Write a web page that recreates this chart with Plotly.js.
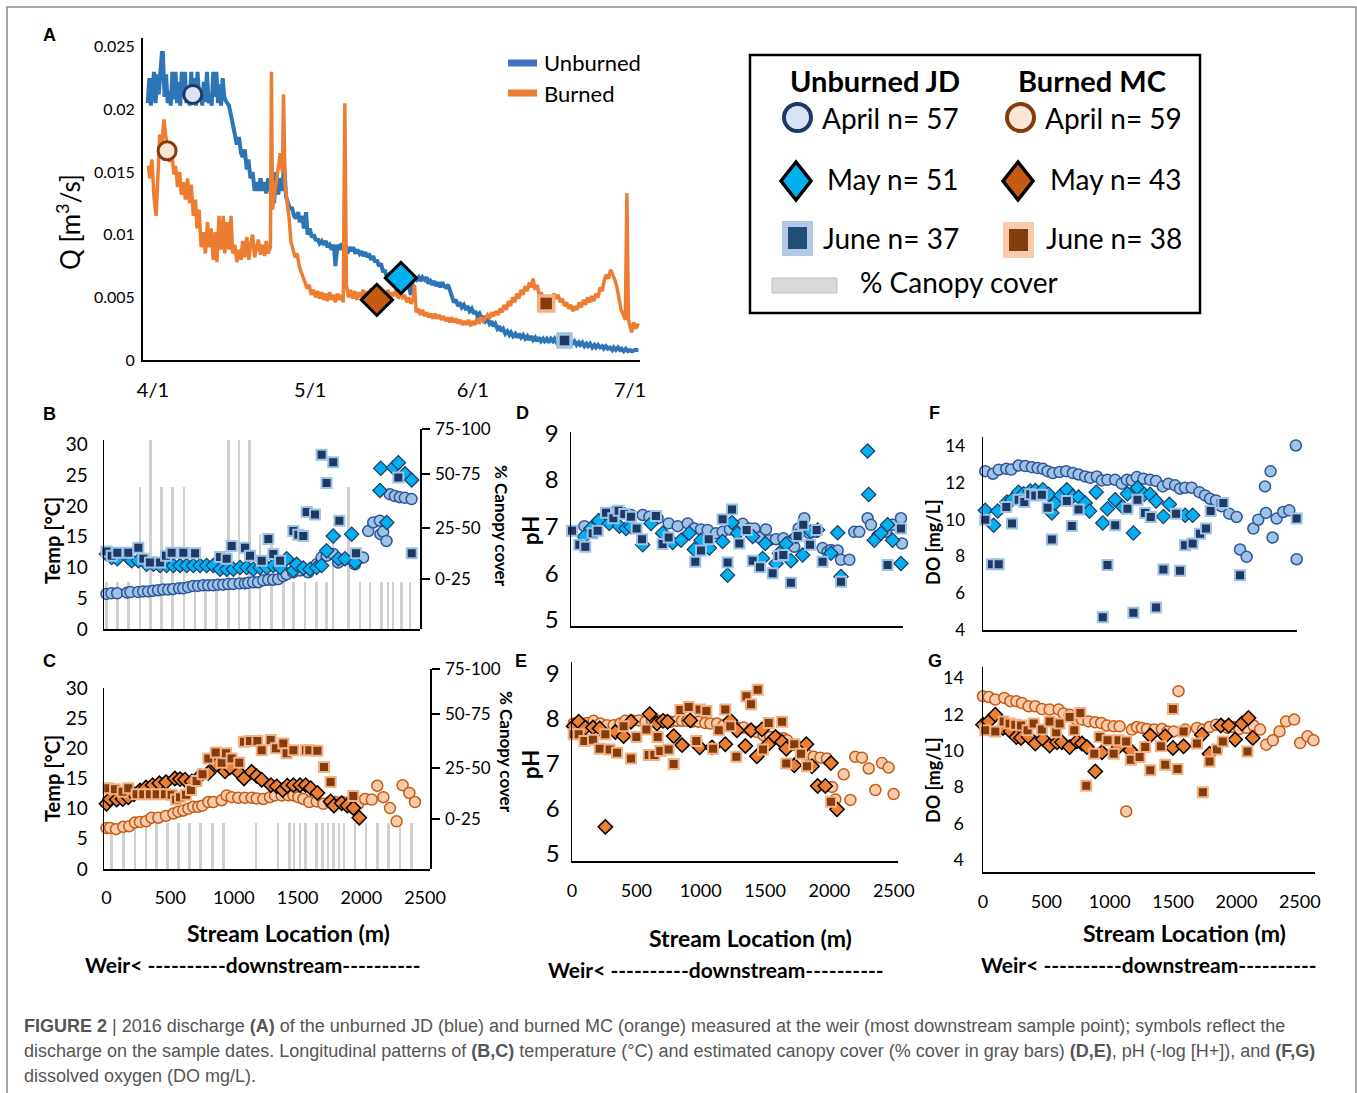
<!DOCTYPE html>
<html><head><meta charset="utf-8">
<script src="https://cdn.plot.ly/plotly-3.0.1.min.js"></script>
<style>html,body{margin:0;padding:0;background:#fff}#chart{width:1357px;height:1093px}</style>
</head><body><div id="chart"></div>
<script>
// ---------------- DATA ----------------
// Panel A: discharge (days since 4/1, Q in m3/s)
const qDayUnburned = [-1.0,-0.7,-0.4,-0.1,0.2,0.5,0.8,1.1,1.4,1.7,1.9,2.2,2.5,2.8,3.1,3.4,3.7,4.0,4.3,4.6,4.9,5.2,5.5,5.8,6.1,6.4,6.7,7.0,7.3,7.6,7.9,8.2,8.5,8.8,9.1,9.4,9.7,10.0,10.3,10.6,10.9,11.2,11.5,11.8,12.1,12.4,12.7,13.0,13.3,13.6,14.0,14.5,14.9,15.3,15.6,16.0,16.4,16.8,17.1,17.5,17.9,18.2,18.6,19.0,19.4,19.8,20.1,20.5,20.9,21.3,21.6,22.0,22.4,22.8,23.1,23.5,23.9,24.3,24.7,25.0,25.4,25.8,26.2,26.5,26.9,27.3,27.7,28.0,28.4,28.8,29.2,29.5,29.9,30.3,30.7,31.1,31.4,31.8,32.2,32.6,33.0,33.3,33.7,34.1,34.5,34.8,35.2,35.6,36.0,36.4,36.7,37.1,37.5,37.9,38.2,38.6,39.0,39.4,39.7,40.1,40.5,40.9,41.2,41.6,42.0,42.4,42.7,43.1,43.5,43.9,44.2,44.6,45.0,45.4,45.7,46.1,46.5,46.9,47.3,47.6,48.0,48.4,48.8,49.2,49.5,49.9,50.3,50.7,51.0,51.4,51.8,52.2,52.5,52.9,53.3,53.7,54.0,54.4,54.8,55.2,55.5,55.9,56.3,56.7,57.0,57.4,57.8,58.2,58.5,58.9,59.3,59.7,60.0,60.4,60.8,61.2,61.5,61.9,62.3,62.7,63.0,63.4,63.8,64.2,64.6,64.9,65.3,65.7,66.1,66.4,66.8,67.2,67.6,68.0,68.3,68.7,69.1,69.5,69.8,70.2,70.6,71.0,71.4,71.7,72.1,72.5,72.9,73.2,73.6,74.0,74.4,74.7,75.1,75.5,75.9,76.3,76.6,77.0,77.4,77.8,78.1,78.5,78.9,79.3,79.6,80.0,80.4,80.8,81.2,81.5,81.9,82.3,82.7,83.0,83.4,83.8,84.2,84.5,84.9,85.3,85.7,86.0,86.4,86.8,87.2,87.6,87.9,88.3,88.7,89.1,89.4,89.8,90.2,90.6,91.0,91.4,92.0,92.6];
const qUnburned = [0.0205,0.0225,0.0203,0.0215,0.0230,0.0205,0.0228,0.0212,0.0230,0.0245,0.0245,0.0210,0.0228,0.0205,0.0215,0.0203,0.0230,0.0208,0.0230,0.0205,0.0222,0.0203,0.0230,0.0210,0.0230,0.0205,0.0215,0.0203,0.0230,0.0208,0.0225,0.0203,0.0230,0.0210,0.0215,0.0203,0.0222,0.0206,0.0230,0.0205,0.0212,0.0203,0.0230,0.0210,0.0230,0.0205,0.0220,0.0203,0.0225,0.0210,0.0206,0.0203,0.0195,0.0185,0.0180,0.0172,0.0178,0.0165,0.0162,0.0168,0.0152,0.0160,0.0145,0.0150,0.0135,0.0142,0.0135,0.0145,0.0135,0.0142,0.0133,0.0145,0.0135,0.0142,0.0125,0.0150,0.0132,0.0145,0.0135,0.0158,0.0130,0.0125,0.0120,0.0122,0.0115,0.0113,0.0118,0.0110,0.0115,0.0105,0.0118,0.0100,0.0105,0.0098,0.0100,0.0095,0.0097,0.0093,0.0095,0.0092,0.0095,0.0090,0.0092,0.0088,0.0092,0.0075,0.0092,0.0088,0.0093,0.0088,0.0092,0.0085,0.0090,0.0087,0.0090,0.0085,0.0088,0.0085,0.0087,0.0083,0.0086,0.0082,0.0085,0.0080,0.0083,0.0078,0.0080,0.0075,0.0077,0.0070,0.0072,0.0066,0.0068,0.0064,0.0067,0.0064,0.0067,0.0065,0.0068,0.0064,0.0066,0.0060,0.0058,0.0052,0.0062,0.0066,0.0064,0.0066,0.0063,0.0066,0.0064,0.0066,0.0061,0.0063,0.0060,0.0063,0.0059,0.0062,0.0058,0.0062,0.0059,0.0058,0.0060,0.0055,0.0050,0.0046,0.0048,0.0043,0.0046,0.0042,0.0044,0.0040,0.0043,0.0039,0.0041,0.0037,0.0039,0.0035,0.0037,0.0033,0.0035,0.0031,0.0033,0.0029,0.0031,0.0027,0.0029,0.0025,0.0027,0.0023,0.0025,0.0021,0.0023,0.0020,0.0022,0.0019,0.0021,0.0018,0.0021,0.0018,0.0020,0.0017,0.0019,0.0016,0.0019,0.0016,0.0018,0.0015,0.0018,0.0015,0.0017,0.0015,0.0017,0.0014,0.0017,0.0015,0.0017,0.0014,0.0016,0.0014,0.0016,0.0014,0.0016,0.0013,0.0015,0.0013,0.0015,0.0012,0.0014,0.0012,0.0014,0.0011,0.0013,0.0011,0.0013,0.0010,0.0012,0.0010,0.0012,0.0010,0.0011,0.0009,0.0011,0.0009,0.0010,0.0008,0.0010,0.0008,0.0010,0.0008,0.0009,0.0007,0.0009,0.0007,0.0008,0.0007,0.0008,0.0008];
const qDayBurned = [-0.9,-0.6,-0.2,0.2,0.6,0.9,1.3,1.7,2.1,2.4,2.8,3.2,3.6,4.0,4.3,4.7,5.1,5.4,5.8,6.2,6.6,7.0,7.3,7.7,8.1,8.4,8.8,9.2,9.6,10.0,10.4,10.7,11.1,11.5,11.9,12.2,12.6,13.0,13.4,13.7,14.1,14.5,14.9,15.2,15.6,16.0,16.4,16.8,17.1,17.5,17.9,18.3,18.6,19.0,19.4,19.8,20.1,20.5,20.9,21.3,21.6,22.0,22.4,22.6,22.8,23.1,23.5,23.9,24.3,24.7,24.9,25.2,25.6,26.0,26.3,26.7,27.1,27.5,27.9,28.3,28.7,29.0,29.4,29.8,30.2,30.6,31.0,31.4,31.8,32.2,32.6,33.0,33.3,33.7,34.1,34.5,34.8,35.2,35.6,36.0,36.3,36.6,36.9,37.3,37.7,38.1,38.5,38.9,39.3,39.7,40.1,40.5,40.9,41.2,41.6,42.0,42.4,42.8,43.2,43.6,44.0,44.4,44.8,45.2,45.6,46.0,46.4,46.8,47.2,47.6,48.0,48.4,48.8,49.2,49.6,49.9,50.2,50.6,51.0,51.4,51.8,52.2,52.6,53.0,53.4,53.8,54.2,54.6,55.0,55.4,55.8,56.2,56.6,57.0,57.4,57.8,58.2,58.6,59.0,59.4,59.8,60.2,60.6,61.0,61.4,61.8,62.2,62.6,63.0,63.4,63.8,64.2,64.6,65.0,65.4,65.8,66.2,66.6,67.0,67.4,67.8,68.2,68.6,69.0,69.4,69.8,70.2,70.6,71.0,71.4,71.8,72.2,72.5,72.9,73.3,73.7,74.1,74.5,74.9,75.3,75.7,76.1,76.5,76.9,77.3,77.7,78.1,78.5,78.9,79.3,79.7,80.1,80.5,80.9,81.3,81.7,82.1,82.5,82.9,83.3,83.7,84.1,84.5,84.9,85.3,85.7,86.1,86.5,86.9,87.3,87.7,88.1,88.5,88.9,89.3,89.7,90.1,90.4,90.7,91.0,91.3,91.7,92.1,92.6];
const qBurned = [0.0155,0.0145,0.0160,0.0130,0.0115,0.0150,0.0180,0.0172,0.0192,0.0180,0.0170,0.0158,0.0165,0.0148,0.0155,0.0138,0.0150,0.0132,0.0142,0.0128,0.0145,0.0125,0.0140,0.0115,0.0128,0.0105,0.0120,0.0090,0.0102,0.0085,0.0110,0.0090,0.0105,0.0080,0.0102,0.0078,0.0115,0.0088,0.0115,0.0085,0.0110,0.0088,0.0115,0.0085,0.0092,0.0078,0.0088,0.0080,0.0095,0.0082,0.0098,0.0080,0.0092,0.0100,0.0082,0.0090,0.0096,0.0084,0.0092,0.0083,0.0095,0.0085,0.0090,0.0230,0.0120,0.0130,0.0142,0.0155,0.0165,0.0150,0.0212,0.0140,0.0128,0.0112,0.0095,0.0088,0.0082,0.0085,0.0075,0.0070,0.0064,0.0062,0.0057,0.0060,0.0052,0.0056,0.0050,0.0055,0.0049,0.0054,0.0048,0.0053,0.0047,0.0054,0.0048,0.0052,0.0046,0.0053,0.0048,0.0052,0.0046,0.0205,0.0060,0.0050,0.0056,0.0049,0.0055,0.0048,0.0054,0.0050,0.0056,0.0049,0.0055,0.0050,0.0057,0.0049,0.0052,0.0048,0.0054,0.0050,0.0055,0.0049,0.0056,0.0050,0.0054,0.0051,0.0056,0.0049,0.0053,0.0050,0.0052,0.0046,0.0050,0.0045,0.0048,0.0060,0.0038,0.0041,0.0036,0.0040,0.0035,0.0038,0.0034,0.0037,0.0033,0.0037,0.0033,0.0036,0.0032,0.0035,0.0031,0.0034,0.0030,0.0034,0.0030,0.0033,0.0029,0.0032,0.0028,0.0031,0.0028,0.0032,0.0027,0.0031,0.0028,0.0033,0.0029,0.0034,0.0031,0.0033,0.0036,0.0033,0.0038,0.0035,0.0039,0.0036,0.0041,0.0038,0.0044,0.0040,0.0047,0.0043,0.0050,0.0046,0.0053,0.0049,0.0056,0.0052,0.0059,0.0055,0.0062,0.0058,0.0065,0.0056,0.0060,0.0051,0.0054,0.0047,0.0050,0.0046,0.0051,0.0048,0.0053,0.0049,0.0052,0.0046,0.0049,0.0043,0.0046,0.0041,0.0044,0.0039,0.0043,0.0040,0.0046,0.0042,0.0048,0.0044,0.0050,0.0046,0.0051,0.0047,0.0053,0.0050,0.0058,0.0055,0.0064,0.0068,0.0065,0.0072,0.0068,0.0064,0.0058,0.0050,0.0040,0.0036,0.0032,0.0133,0.0032,0.0027,0.0022,0.0030,0.0025,0.0029];
// sample dates (April, May, June)
const sampleDayUnburned = [7.6, 47.3, 78.5];
const sampleQUnburned   = [0.0212, 0.00655, 0.00156];
const sampleDayBurned   = [2.7, 42.7, 75.0];
const sampleQBurned     = [0.0167, 0.0048, 0.0045];
const dateTickDays = [0, 30, 61, 91];
const dateTickText = ['4/1','5/1','6/1','7/1'];

// Canopy cover classes
const canopyLabels = ['0-25','25-50','50-75','75-100'];
const bCanopyLoc = [1,85,171,263,347,433,519,608,695,778,865,956,1040,1124,1203,1296,1388,1466,1558,1649,1727,1779,1897,1988,2066,2158,2210,2249,2315,2380];
const bCanopyClass = [1,1,1,3,4,3,3,3,1,1,1,4,4,4,2,2,1,1,1,1,1,2,3,1,1,1,1,1,1,1];
const cCanopyLoc = [41,132,224,310,394,480,566,653,739,831,917,1173,1346,1435,1472,1519,1561,1650,1697,1739,1781,1823,1864,1951,2037,2126,2215,2304,2393];
const cCanopyClass = [1,1,1,1,1,1,1,1,1,1,1,1,1,1,1,1,1,1,1,1,1,1,1,1,1,1,1,1,1];

// Panel B: unburned temperature
const bAprLoc = [0,39,84,162,188,249,288,327,366,405,445,484,523,570,602,641,680,719,759,798,837,876,916,955,994,1046,1086,1112,1151,1190,1230,1269,1308,1347,1386,1413,1465,1517,1583,1648,1687,1727,1779,1818,1871,1949,2014,2054,2093,2145,2150,2171,2197,2223,2263,2302,2341,2394];
const bAprTemp = [5.7,5.8,5.8,5.9,6.0,6.0,6.1,6.1,6.2,6.3,6.4,6.4,6.5,6.6,6.6,6.8,7.0,7.0,7.1,7.1,7.1,7.2,7.2,7.3,7.3,7.4,7.4,7.5,7.6,7.6,7.9,8.0,8.0,8.1,8.6,8.9,9.2,9.5,9.2,10.5,11.6,11.9,12.2,10.8,11.3,10.5,11.6,15.9,17.3,17.6,15.4,15.8,14.3,21.9,21.6,21.4,21.3,21.1];
const bMayLoc = [0,41,85,171,198,250,315,368,420,472,525,577,629,681,734,786,838,891,943,995,1048,1100,1152,1205,1257,1309,1362,1414,1466,1492,1544,1597,1649,1688,1727,1779,1819,1871,1924,1950,2146,2152,2199,2251,2290,2343,2395];
const bMayTemp = [12.2,11.6,11.4,11.6,11.1,11.1,10.5,10.5,10.3,10.3,10.3,10.3,10.3,10.3,10.3,10.3,10.3,9.7,9.7,9.7,10.0,10.0,9.7,10.0,10.0,10.3,10.0,11.4,9.5,10.5,9.9,9.7,10.0,10.3,12.7,15.1,11.4,11.4,15.4,10.8,22.5,26.1,17.3,26.2,27.0,25.2,24.2];
const bJunLoc = [0,41,85,171,250,289,341,420,467,511,603,695,891,943,982,1087,1126,1218,1270,1309,1362,1466,1505,1544,1571,1636,1688,1727,1779,1827,1958,2290,2395];
const bJunTemp = [12.6,11.9,12.4,12.4,13.2,11.4,10.8,10.8,11.9,12.4,12.4,12.3,11.7,11.4,13.5,13.2,11.9,11.1,14.6,12.2,11.1,15.9,15.3,15.1,19.0,18.6,28.3,23.7,27.1,17.6,12.3,24.6,12.3];

// Panel C: burned temperature
const cAprLoc = [0,27,75,132,179,224,263,310,354,407,467,525,564,603,642,681,720,752,799,838,904,943,982,1034,1086,1139,1179,1231,1283,1322,1375,1427,1467,1506,1545,1592,1650,1702,1754,1793,1846,1885,1938,1976,2029,2082,2125,2173,2225,2277,2324,2377,2421];
const cAprTemp = [6.8,6.8,6.6,7.0,7.1,7.7,7.8,7.9,8.5,8.5,8.8,9.2,9.5,9.7,10.0,10.3,10.3,10.5,11.1,11.1,11.4,12.2,11.9,11.8,11.8,11.8,11.7,11.6,11.9,12.2,12.2,12.2,12.2,11.9,11.6,11.1,11.2,10.8,11.1,11.1,11.1,11.0,10.0,10.8,11.6,11.5,13.8,11.9,10.1,7.9,13.9,12.6,11.1];
const cMayLoc = [0,27,80,127,171,216,263,310,362,415,467,537,577,616,668,734,799,865,930,969,1042,1079,1139,1179,1218,1291,1336,1383,1419,1467,1519,1563,1603,1655,1759,1785,1846,1890,1938,1984];
const cMayTemp = [10.8,11.6,11.5,11.6,11.9,12.4,13.0,13.5,13.9,14.2,14.4,15.0,14.9,14.8,14.5,15.4,15.9,17.3,16.2,16.8,15.9,15.0,16.1,15.4,14.8,13.9,13.7,13.1,13.8,13.9,13.9,13.9,13.4,12.6,11.2,10.5,10.9,10.5,10.1,8.5];
const cJunLoc = [14,67,127,171,237,289,341,394,459,511,546,577,624,663,707,754,799,857,904,938,982,1042,1079,1126,1184,1218,1289,1330,1388,1414,1467,1566,1592,1655,1707,1759,1937];
const cJunTemp = [13.4,13.2,12.8,13.4,12.4,12.4,12.4,12.4,12.4,12.3,11.5,11.9,12.3,13.1,14.6,15.7,18.3,19.3,17.6,19.2,18.3,17.6,21.1,21.2,21.2,19.7,21.4,20.0,20.8,19.2,19.7,19.7,19.7,19.6,16.9,14.4,12.1];

// Panel D: unburned pH
const dAprLoc = [104,199,285,344,401,466,557,609,673,759,829,907,958,1010,1062,1127,1178,1235,1295,1334,1386,1425,1463,1515,1541,1593,1650,1684,1735,1769,1813,1852,1904,1955,1994,2020,2072,2098,2163,2201,2240,2305,2331,2383,2448,2499,2564,2572];
const dAprPH = [7.01,7.06,7.25,7.32,7.30,7.25,7.25,7.21,7.18,7.07,7.01,7.07,6.96,6.94,6.93,6.86,6.89,6.94,7.01,7.06,6.96,6.96,6.77,6.94,6.71,6.73,6.75,6.66,6.57,6.96,7.18,6.86,6.89,6.54,6.46,6.50,6.49,6.29,6.29,6.89,6.89,7.18,7.04,6.80,6.89,7.04,7.18,6.64];
const dMayLoc = [104,155,215,298,376,427,466,557,622,712,790,855,919,958,1010,1075,1178,1217,1251,1295,1412,1489,1510,1593,1619,1671,1709,1748,1800,1865,1917,2020,2072,2098,2305,2313,2357,2409,2460,2499,2564];
const dMayPH = [6.79,6.96,7.13,7.07,7.01,6.96,7.00,6.61,7.07,6.86,6.66,6.71,6.86,6.51,6.71,6.54,6.68,5.96,7.09,6.86,6.79,6.32,6.64,6.21,6.43,6.63,6.27,6.79,6.39,6.89,6.93,6.43,6.87,5.93,8.62,7.69,6.71,6.86,7.04,6.71,6.21];
const dJunLoc = [8,65,111,168,207,272,329,370,414,466,510,552,660,712,759,966,1010,1070,1178,1217,1251,1308,1365,1412,1469,1567,1614,1650,1709,1761,1805,1857,1909,1955,2098,2460,2564];
const dJunPH = [6.91,6.61,6.57,6.86,6.91,7.30,7.18,7.34,7.27,7.21,6.96,6.73,7.23,6.63,6.77,6.25,6.49,6.73,7.16,6.23,7.37,6.64,6.93,6.27,6.13,6.00,6.37,6.39,5.80,6.80,7.04,6.61,6.93,6.25,5.82,6.18,6.96];

// Panel E: burned pH
const eAprLoc = [13,65,117,168,220,272,324,376,414,466,518,570,622,673,712,764,816,855,894,932,984,1036,1075,1127,1178,1230,1282,1334,1386,1437,1489,1541,1593,1645,1671,1722,1774,1826,1878,1930,1981,2020,2046,2111,2163,2201,2253,2305,2357,2409,2460,2499];
const eAprPH = [7.89,7.90,7.90,7.95,7.89,7.85,7.85,7.89,7.95,7.96,7.96,7.93,7.96,7.95,7.96,7.93,7.95,7.95,7.95,7.93,7.93,7.90,7.89,7.89,7.85,7.85,7.80,7.80,7.74,7.70,7.63,7.59,7.58,7.56,7.52,7.41,7.37,7.19,7.15,7.13,7.11,6.48,6.20,6.76,6.19,7.15,7.13,6.89,6.41,7.01,6.91,6.32];
const eMayLoc = [13,52,104,163,215,259,337,401,458,603,660,707,743,790,855,919,992,1088,1191,1230,1282,1347,1391,1437,1476,1528,1580,1632,1665,1727,1821,1865,1909,1968,2012,2059];
const eMayPH = [7.83,7.93,7.80,7.80,7.78,5.59,7.70,7.61,7.93,8.10,7.89,7.95,7.93,7.61,7.41,7.96,7.36,7.36,7.43,7.96,7.74,7.39,7.74,7.16,7.76,7.44,7.59,7.48,7.33,6.96,7.43,6.94,6.50,6.50,7.01,5.98];
const eJunLoc = [13,52,96,163,215,259,293,350,401,458,500,578,596,640,666,686,751,790,842,907,966,992,1044,1096,1140,1191,1230,1277,1355,1391,1443,1484,1528,1632,1665,1727,1779,1826,2012];
const eJunPH = [7.65,7.65,7.50,7.53,7.33,7.65,7.31,7.24,7.83,7.11,7.59,7.76,7.19,7.19,7.59,7.28,7.31,6.99,8.19,8.26,7.50,8.20,8.17,7.33,7.74,8.20,7.83,7.15,8.50,8.32,8.64,7.31,7.90,7.93,7.00,7.43,7.22,6.94,6.15];

// Panel F: unburned DO
const fAprLoc = [18,79,124,184,223,281,334,386,431,473,510,552,605,657,710,755,807,847,899,939,983,1044,1096,1136,1175,1215,1267,1320,1367,1420,1464,1517,1556,1596,1648,1709,1754,1793,1840,1885,1945,2003,2030,2082,2135,2174,2227,2235,2271,2287,2319,2371,2419,2471,2477];
const fAprDO = [12.64,12.50,12.72,12.77,12.73,12.95,12.92,12.86,12.81,12.77,12.64,12.54,12.59,12.64,12.54,12.46,12.35,12.28,12.35,12.14,12.17,12.17,11.96,12.17,12.14,12.32,12.23,12.17,12.10,11.81,11.96,11.87,11.69,11.74,11.74,11.50,11.32,11.14,11.05,10.73,10.33,10.15,8.38,7.98,9.52,10.00,11.81,10.37,12.63,9.03,10.06,10.42,10.51,14.04,7.85];
const fMayLoc = [18,84,116,189,229,281,321,373,413,473,518,544,571,615,662,710,755,807,841,894,946,983,1044,1104,1141,1188,1220,1273,1320,1367,1425,1472,1596,1656];
const fMayDO = [10.51,9.70,10.47,10.96,11.09,11.50,11.41,11.56,11.59,11.63,11.38,10.37,10.91,11.32,11.63,11.27,11.23,10.91,10.47,11.50,9.82,10.60,11.09,10.69,11.41,9.28,11.74,11.38,11.38,11.02,10.18,10.84,10.24,10.24];
const fJunLoc = [18,71,124,184,229,281,326,373,413,465,510,544,662,702,755,946,983,1044,1141,1188,1220,1280,1325,1367,1425,1525,1556,1596,1656,1714,1761,1798,1877,1898,2030,2477];
const fJunDO = [10.00,7.58,7.58,10.69,9.79,11.09,10.96,11.38,11.32,11.36,10.65,8.92,11.02,9.66,10.55,4.69,7.53,9.70,10.60,4.94,11.09,10.37,10.15,5.23,7.29,10.33,7.22,8.61,8.70,9.24,9.52,10.47,10.91,10.91,6.98,10.06];

// Panel G: burned DO
const gAprLoc = [0,45,97,168,216,263,308,360,413,465,526,597,636,684,736,781,833,886,933,978,1031,1078,1130,1175,1215,1254,1294,1351,1412,1456,1504,1543,1596,1688,1735,1788,1840,1885,1930,1977,2024,2082,2135,2187,2235,2287,2340,2392,2456,2503,2561,2608];
const gAprDO = [12.99,12.95,12.81,12.90,12.72,12.72,12.62,12.44,12.44,12.29,12.26,12.26,12.04,11.98,11.71,11.71,11.61,11.56,11.52,11.38,11.34,11.34,6.66,11.16,11.30,11.25,11.19,11.16,11.19,11.06,11.06,13.27,11.16,11.25,11.16,11.30,11.43,11.38,11.25,11.30,11.19,11.25,11.38,11.16,10.33,10.57,11.06,11.61,11.71,10.42,10.79,10.57];
const gMayLoc = [0,45,97,158,216,263,300,360,413,473,526,584,623,684,741,781,820,886,939,1070,1162,1320,1438,1499,1583,1727,1788,1877,1938,1990,2043,2095,2129];
const gMayDO = [11.43,11.61,11.98,11.25,11.06,10.75,10.70,10.75,10.39,10.64,10.28,10.46,10.46,10.20,10.51,10.39,10.20,8.86,9.91,10.20,10.02,10.83,10.79,10.15,10.24,10.88,9.83,11.38,11.38,10.61,11.49,11.80,10.70];
const gJunLoc = [18,97,163,210,255,300,352,400,465,526,578,605,684,720,768,815,878,920,983,1031,1070,1130,1167,1236,1280,1320,1404,1438,1499,1535,1583,1688,1735,1788,1846,1893,2087];
const gJunDO = [11.12,11.06,11.61,11.49,11.43,11.38,11.12,11.49,11.16,11.61,11.01,11.49,11.85,11.12,12.07,8.07,9.83,10.75,10.57,9.83,10.57,10.51,9.50,9.65,10.20,8.92,10.24,9.23,12.29,8.99,11.06,10.39,7.71,9.41,10.06,10.51,9.96];

const locTicks = [0,500,1000,1500,2000,2500];

// ---------------- LAYOUT HELPERS ----------------
const W = 1357, H = 1093;
const fx = x => x / W;
const fy = y => 1 - y / H;
const domX = (a, b) => [a / W, b / W];
const domY = (top, bottom) => [1 - bottom / H, 1 - top / H];
const FONT = "Lato, 'Open Sans', sans-serif";
const ARIAL = "'Liberation Sans', Arial, sans-serif";

const st = {
  unbApr: {symbol:'circle', size:11, color:'#9dc3e6', line:{color:'#2f5597', width:1.5}},
  unbMay: {symbol:'diamond', size:11, color:'#00b0f0', line:{color:'#1f3864', width:1.2}},
  unbJun: {symbol:'square', size:10, color:'#1f3864', line:{color:'#9dc3e6', width:2}},
  burApr: {symbol:'circle', size:11, color:'#f8cbad', line:{color:'#c55a11', width:1.5}},
  burMay: {symbol:'diamond', size:11, color:'#ed7d31', line:{color:'#000000', width:1.5}},
  burJun: {symbol:'square', size:10, color:'#843c0c', line:{color:'#f4b183', width:2}}
};

const data = [];
function pts(x, y, xa, ya, marker) {
  data.push({type:'scatter', mode:'markers', x, y, xaxis:xa, yaxis:ya, marker, cliponaxis:false, hoverinfo:'skip', showlegend:false});
}
function bars(x, y, xa, ya) {
  data.push({type:'bar', x, y, xaxis:xa, yaxis:ya, width:20, marker:{color:'#d0d0d0', line:{width:0}}, hoverinfo:'skip', showlegend:false});
}

// Panel A
data.push({type:'scatter', mode:'lines', x:qDayUnburned, y:qUnburned, xaxis:'x', yaxis:'y', line:{color:'#2e75b6', width:4}, hoverinfo:'skip', showlegend:false});
data.push({type:'scatter', mode:'lines', x:qDayBurned, y:qBurned, xaxis:'x', yaxis:'y', line:{color:'#ed7d31', width:3.5}, hoverinfo:'skip', showlegend:false});
const aSym = [
  {symbol:'circle', size:18, color:'#dae3f3', line:{color:'#1f3864', width:3}},
  {symbol:'diamond', size:24, color:'#00b0f0', line:{color:'#000', width:3}},
  {symbol:'square', size:13, color:'#1f3864', line:{color:'#9dc3e6', width:3.5}}
];
const aSymB = [
  {symbol:'circle', size:18, color:'#fbe5d6', line:{color:'#843c0c', width:3}},
  {symbol:'diamond', size:24, color:'#c55a11', line:{color:'#000', width:3}},
  {symbol:'square', size:15, color:'#843c0c', line:{color:'#f4b183', width:3.5}}
];
for (let i = 0; i < 3; i++) {
  pts([sampleDayUnburned[i]], [sampleQUnburned[i]], 'x', 'y', aSym[i]);
  pts([sampleDayBurned[i]], [sampleQBurned[i]], 'x', 'y', aSymB[i]);
}

// Panel B (bars on x2/y2, markers on x3/y3)
bars(bCanopyLoc, bCanopyClass, 'x2', 'y2');
pts(bAprLoc, bAprTemp, 'x3', 'y3', st.unbApr);
pts(bMayLoc, bMayTemp, 'x3', 'y3', st.unbMay);
pts(bJunLoc, bJunTemp, 'x3', 'y3', st.unbJun);
// Panel C
bars(cCanopyLoc, cCanopyClass, 'x4', 'y4');
pts(cAprLoc, cAprTemp, 'x5', 'y5', st.burApr);
pts(cMayLoc, cMayTemp, 'x5', 'y5', st.burMay);
pts(cJunLoc, cJunTemp, 'x5', 'y5', st.burJun);
// Panel D
pts(dAprLoc, dAprPH, 'x6', 'y6', st.unbApr);
pts(dMayLoc, dMayPH, 'x6', 'y6', st.unbMay);
pts(dJunLoc, dJunPH, 'x6', 'y6', st.unbJun);
// Panel E
pts(eAprLoc, eAprPH, 'x7', 'y7', st.burApr);
pts(eMayLoc, eMayPH, 'x7', 'y7', st.burMay);
pts(eJunLoc, eJunPH, 'x7', 'y7', st.burJun);
// Panel F
pts(fAprLoc, fAprDO, 'x8', 'y8', st.unbApr);
pts(fMayLoc, fMayDO, 'x8', 'y8', st.unbMay);
pts(fJunLoc, fJunDO, 'x8', 'y8', st.unbJun);
// Panel G
pts(gAprLoc, gAprDO, 'x9', 'y9', st.burApr);
pts(gMayLoc, gMayDO, 'x9', 'y9', st.burMay);
pts(gJunLoc, gJunDO, 'x9', 'y9', st.burJun);

function ax(o) {
  return Object.assign({showgrid:false, zeroline:false, showline:true, linecolor:'#000', linewidth:1.5,
    ticks:'', fixedrange:true, tickfont:{family:FONT, size:18, color:'#000'}}, o);
}
const canopyTickB = [1.06, 2.14, 3.28, 4.23];
const canopyTickC = [1.09, 2.2, 3.37, 4.35];

const layout = {
  width: W, height: H, margin:{l:0, r:0, t:0, b:0},
  paper_bgcolor:'#fff', plot_bgcolor:'rgba(0,0,0,0)',
  showlegend:false, hovermode:false, bargap:0,
  xaxis: ax({domain:domX(143,640), anchor:'y', range:[-1.9, 92.9], tickvals:dateTickDays, ticktext:dateTickText, linewidth:2, tickfont:{family:FONT,size:20,color:'#000'}, ticklabelstandoff:11}),
  yaxis: ax({domain:domY(38,360), anchor:'x', range:[0, 0.0257], tickvals:[0,0.005,0.01,0.015,0.02,0.025], ticktext:['0','0.005','0.01','0.015','0.02','0.025'], linewidth:2, tickfont:{family:FONT,size:16,color:'#000'}, ticklabelstandoff:3}),
  xaxis2: ax({domain:domX(104,420), anchor:'y2', range:[-19.6, 2460], showline:false, showticklabels:false}),
  yaxis2: ax({domain:domY(429,629), anchor:'x2', side:'right', range:[0, 4.23], tickvals:canopyTickB, ticktext:canopyLabels, ticks:'outside', ticklen:8, tickwidth:1.5, tickcolor:'#000', tickfont:{family:FONT,size:17,color:'#000'}, ticklabelstandoff:2}),
  xaxis3: ax({domain:domX(104,420), anchor:'y3', range:[-19.6, 2460], showticklabels:false}),
  yaxis3: ax({domain:domY(440,629), anchor:'x3', range:[0, 30.7], tickvals:[0,5,10,15,20,25,30], tickfont:{family:FONT,size:19,color:'#000'}, ticklabelstandoff:11}),
  xaxis4: ax({domain:domX(104,430), anchor:'y4', range:[-19.6, 2539], showline:false, showticklabels:false}),
  yaxis4: ax({domain:domY(669,869), anchor:'x4', side:'right', range:[0, 4.35], tickvals:canopyTickC, ticktext:canopyLabels, ticks:'outside', ticklen:8, tickwidth:1.5, tickcolor:'#000', tickfont:{family:FONT,size:17,color:'#000'}, ticklabelstandoff:2}),
  xaxis5: ax({domain:domX(104,430), anchor:'y5', range:[-19.6, 2539], tickvals:locTicks, ticklabelstandoff:12}),
  yaxis5: ax({domain:domY(688,869), anchor:'x5', range:[0, 30], tickvals:[0,5,10,15,20,25,30], tickfont:{family:FONT,size:19,color:'#000'}, ticklabelstandoff:11}),
  xaxis6: ax({domain:domX(571,903), anchor:'y6', range:[0, 2580], showticklabels:false}),
  yaxis6: ax({domain:domY(432,626), anchor:'x6', range:[4.87, 9.03], tickvals:[5,6,7,8,9], tickfont:{family:FONT,size:24,color:'#000'}, ticklabelstandoff:6}),
  xaxis7: ax({domain:domX(572,898), anchor:'y7', range:[0, 2533], tickvals:locTicks, ticklabelstandoff:13}),
  yaxis7: ax({domain:domY(662,861), anchor:'x7', range:[4.83, 9.26], tickvals:[5,6,7,8,9], tickfont:{family:FONT,size:24,color:'#000'}, ticklabelstandoff:6}),
  xaxis8: ax({domain:domX(983,1297), anchor:'y8', range:[0, 2480], showticklabels:false}),
  yaxis8: ax({domain:domY(437,630), anchor:'x8', range:[4, 14.5], tickvals:[4,6,8,10,12,14], tickfont:{family:FONT,size:17,color:'#000'}, ticklabelstandoff:13}),
  xaxis9: ax({domain:domX(983,1315), anchor:'y9', range:[0, 2620], tickvals:locTicks, ticklabelstandoff:13}),
  yaxis9: ax({domain:domY(667,872), anchor:'x9', range:[3.33, 14.6], tickvals:[4,6,8,10,12,14], tickfont:{family:FONT,size:18,color:'#000'}, ticklabelstandoff:14}),
  shapes: [], annotations: []
};

function T(text, x, y, size, o) {
  layout.annotations.push(Object.assign({text, x:fx(x), y:fy(y), xref:'paper', yref:'paper', showarrow:false,
    font:{family:FONT, size, color:'#000'}, xanchor:'center', yanchor:'middle'}, o || {}));
}
function S(o) { layout.shapes.push(Object.assign({xref:'paper', yref:'paper'}, o)); }

// frame
S({type:'rect', x0:fx(7), x1:fx(1356), y0:fy(1120), y1:fy(7), line:{color:'#8c8c8c', width:1.5}});

// panel letters
const L = (t, x, y) => T('<b>'+t+'</b>', x, y, 18, {font:{family:ARIAL, size:18, color:'#000'}});
L('A', 49, 35); L('B', 49, 414); L('C', 49, 661); L('D', 522, 413); L('E', 521, 661); L('F', 934, 413); L('G', 935, 661);

// Panel A titles / legend
T('Q [m<sup>3</sup>/s]', 68, 222, 26, {textangle:-90});
S({type:'line', x0:fx(508), x1:fx(537), y0:fy(63), y1:fy(63), line:{color:'#4472c4', width:7}});
S({type:'line', x0:fx(508), x1:fx(537), y0:fy(93), y1:fy(93), line:{color:'#ed7d31', width:7}});
T('Unburned', 542, 63, 22, {xanchor:'left'});
T('Burned', 542, 93, 22, {xanchor:'left'});

// Legend box
S({type:'rect', x0:fx(750), x1:fx(1200), y0:fy(313), y1:fy(55), line:{color:'#000', width:2.5}});
T('<b>Unburned JD</b>', 875, 80, 29);
T('<b>Burned MC</b>', 1092, 80, 29);
T('April n= 57', 961, 118, 28, {xanchor:'right'});
T('May n= 51', 961, 179, 28, {xanchor:'right'});
T('June n= 37', 961, 238, 28, {xanchor:'right'});
T('April n= 59', 1184, 118, 28, {xanchor:'right'});
T('May n= 43', 1184, 179, 28, {xanchor:'right'});
T('June n= 38', 1184, 238, 28, {xanchor:'right'});
T('% Canopy cover', 858, 282, 28, {xanchor:'left'});
S({type:'circle', x0:fx(784), x1:fx(811), y0:fy(131), y1:fy(104), fillcolor:'#dae3f3', line:{color:'#1f3864', width:4}});
S({type:'circle', x0:fx(1007), x1:fx(1034), y0:fy(131), y1:fy(104), fillcolor:'#fbe5d6', line:{color:'#843c0c', width:4}});
function diamond(cx, cy, hw, hh) {
  return 'M '+fx(cx-hw)+' '+fy(cy)+' L '+fx(cx)+' '+fy(cy-hh)+' L '+fx(cx+hw)+' '+fy(cy)+' L '+fx(cx)+' '+fy(cy+hh)+' Z';
}
S({type:'path', path:diamond(796,181,15,19), fillcolor:'#00b0f0', line:{color:'#000', width:3.5}});
S({type:'path', path:diamond(1018,181,15,19), fillcolor:'#c55a11', line:{color:'#000', width:3.5}});
S({type:'rect', x0:fx(782), x1:fx(813), y0:fy(256), y1:fy(221), fillcolor:'#b4c7e7', line:{width:0}});
S({type:'rect', x0:fx(788), x1:fx(807), y0:fy(249), y1:fy(227), fillcolor:'#1f4e79', line:{width:0}});
S({type:'rect', x0:fx(1003), x1:fx(1034), y0:fy(258), y1:fy(222), fillcolor:'#f8cbad', line:{width:0}});
S({type:'rect', x0:fx(1009), x1:fx(1028), y0:fy(251), y1:fy(229), fillcolor:'#843c0c', line:{width:0}});
S({type:'rect', x0:fx(772), x1:fx(837), y0:fy(293), y1:fy(278), fillcolor:'#d9d9d9', line:{color:'#bfbfbf', width:1}});

// Axis titles lower panels
T('<b>Temp [°C]</b>', 52, 541, 20, {textangle:-90});
T('<b>Temp [°C]</b>', 52, 779, 20, {textangle:-90});
T('<b>% Canopy cover</b>', 502, 526, 17, {textangle:90});
T('<b>% Canopy cover</b>', 507, 752, 17, {textangle:90});
T('<b>pH</b>', 530, 531, 22, {textangle:-90});
T('<b>pH</b>', 530, 765, 22, {textangle:-90});
T('<b>DO [mg/L]</b>', 933, 542, 18, {textangle:-90});
T('<b>DO [mg/L]</b>', 933, 780, 18, {textangle:-90});
const wtxt = '<b>Weir&lt; ----------downstream----------</b>';
T('<b>Stream Location (m)</b>', 288, 933, 23);
T(wtxt, 253, 964, 21);
T('<b>Stream Location (m)</b>', 751, 938, 23);
T(wtxt, 716, 969, 21);
T('<b>Stream Location (m)</b>', 1184, 933, 23);
T(wtxt, 1149, 964, 21);

// Caption
const CAP = "'Liberation Sans', Arial, sans-serif";
const capLines = [
  '<b>FIGURE 2</b> | 2016 discharge <b>(A)</b> of the unburned JD (blue) and burned MC (orange) measured at the weir (most downstream sample point); symbols reflect the',
  'discharge on the sample dates. Longitudinal patterns of <b>(B,C)</b> temperature (°C) and estimated canopy cover (% cover in gray bars) <b>(D,E)</b>, pH (-log [H+]), and <b>(F,G)</b>',
  'dissolved oxygen (DO mg/L).'
];
[1026, 1051, 1076].forEach((y, i) => T(capLines[i], 22, y, 18, {xanchor:'left', font:{family:CAP, size:18, color:'#555555'}}));

Plotly.newPlot('chart', data, layout, {staticPlot:true, displayModeBar:false});
</script></body></html>
